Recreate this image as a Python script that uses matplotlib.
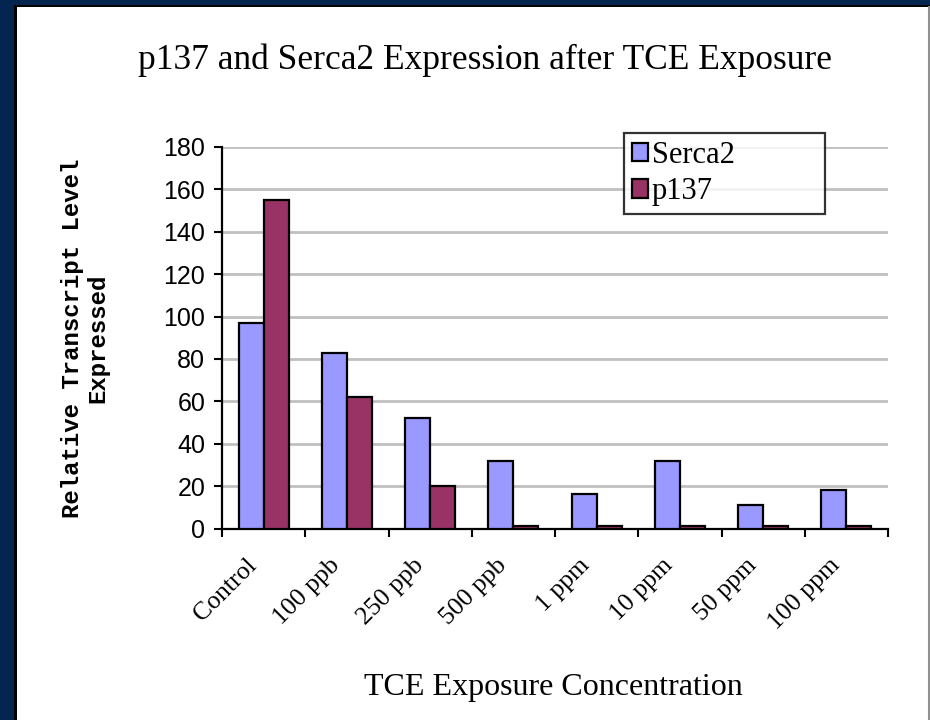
import numpy as np
from matplotlib import pyplot as plt
from matplotlib.patches import Rectangle
from matplotlib.lines import Line2D
from matplotlib.transforms import ScaledTranslation, blended_transform_factory

categories = ['Control', '100 ppb', '250 ppb', '500 ppb',
              '1 ppm', '10 ppm', '50 ppm', '100 ppm']
serca2 = [97, 83, 52, 32, 16.5, 32, 11, 18]
p137 = [155, 62, 20, 1, 1, 1, 1, 1]

yticks = np.arange(0, 181, 20)

NAVY = '#03254f'
SERCA_COLOR = '#9999ff'
P137_COLOR = '#993366'

fig = plt.figure(figsize=(9.3, 7.2), dpi=100)

# frame: navy band on the left and top, thin black line, white page
fig.patches.append(Rectangle((0, 0), 1, 1, transform=fig.transFigure,
                             facecolor=NAVY, edgecolor='none', zorder=-3))
fig.patches.append(Rectangle((14 / 930, 0), 1, 1 - 5 / 720,
                             transform=fig.transFigure,
                             facecolor='black', edgecolor='none', zorder=-2))
fig.patches.append(Rectangle((17 / 930, 0), 1, 1 - 7 / 720,
                             transform=fig.transFigure,
                             facecolor='white', edgecolor='none', zorder=-1))
fig.lines.append(Line2D([928.5 / 930, 928.5 / 930], [0, 1 - 7 / 720],
                        transform=fig.transFigure, color='#909090', lw=1.5))

ax = fig.add_axes([222 / 930, 1 - 528.5 / 720, 666 / 930, 381.5 / 720])

x = np.arange(len(categories))
w = 0.3
ax.bar(x - w / 2, serca2, width=w, color=SERCA_COLOR, edgecolor='black',
       linewidth=1.6, label='Serca2', zorder=3)
ax.bar(x + w / 2, p137, width=w, color=P137_COLOR, edgecolor='black',
       linewidth=1.6, label='p137', zorder=3)

ax.set_xlim(-0.5, len(categories) - 0.5)
ax.set_ylim(0, 180)

ax.set_yticks(yticks)
ax.set_yticklabels([str(v) for v in yticks], family='Liberation Sans',
                   fontsize=18)
ax.yaxis.grid(True, color='#c0c0c0', linewidth=2, zorder=0)
ax.set_axisbelow(True)

# category labels, slanted, sitting a little left of the group centre
ax.set_xticks(x)
ax.set_xticklabels([])
ax.tick_params(axis='x', which='major', length=0)
lbl_trans = (blended_transform_factory(ax.transData, ax.transAxes)
             + ScaledTranslation(-18 / 100, -26 / 100, fig.dpi_scale_trans))
for xi, name in zip(x, categories):
    ax.text(xi, 0, name, transform=lbl_trans, rotation=45, ha='right',
            va='top', rotation_mode='anchor', family='Liberation Serif',
            fontsize=18.5)

ax.set_xticks(np.arange(-0.5, len(categories)), minor=True)
ax.tick_params(axis='x', which='minor', length=6, width=1.5, direction='out')
ax.tick_params(axis='y', length=6, width=1.5, direction='out', pad=6)

for s in ['top', 'right']:
    ax.spines[s].set_visible(False)
for s in ['left', 'bottom']:
    ax.spines[s].set_linewidth(1.6)

fig.text(485 / 930, 1 - 60 / 720,
         'p137 and Serca2 Expression after TCE Exposure',
         family='Liberation Serif', fontsize=25.5, ha='center', va='center')
fig.text(553 / 930, 1 - 688 / 720, 'TCE Exposure Concentration',
         family='Liberation Serif', fontsize=23, ha='center', va='center')
fig.text(85 / 930, 1 - 338 / 720, 'Relative Transcript Level\nExpressed',
         family='Liberation Mono', fontsize=17.3, weight='bold',
         ha='center', va='center', rotation=90, linespacing=1.1)

leg = ax.legend(loc='upper left',
                bbox_to_anchor=(624 / 930, 1 - 213 / 720, 201 / 930, 80 / 720),
                bbox_transform=fig.transFigure, mode='expand',
                prop={'family': 'Liberation Serif', 'size': 22},
                frameon=True, fancybox=False, borderpad=0.25,
                handlelength=0.55, handleheight=0.55, handletextpad=0.1,
                labelspacing=0.25, borderaxespad=0)
leg.get_frame().set_edgecolor('black')
leg.get_frame().set_linewidth(1.6)
leg.set_zorder(5)

fig.savefig('out.png', dpi=100)
